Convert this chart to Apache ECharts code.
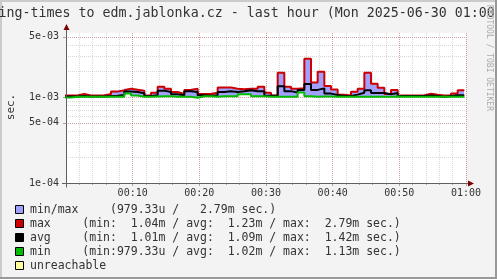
<!DOCTYPE html>
<html><head><meta charset="utf-8">
<script src="https://cdn.jsdelivr.net/npm/echarts@6/dist/echarts.min.js"></script>
<style>html,body{margin:0;padding:0;background:#f3f3f3;overflow:hidden}#c{width:497px;height:279px}</style>
</head><body><div id="c"></div>
<script>
// ---- data (milliseconds), one value per minute step ----
const maxMs = [1.042,1.042,1.085,1.042,1.042,1.042,1.085,1.155,1.196,1.251,1.218,1.186,1.042,1.124,1.32,1.251,1.144,1.085,1.21,1.251,
  1.085,1.085,1.124,1.29,1.29,1.251,1.23,1.251,1.251,1.32,1.124,1.042,1.92,1.32,1.251,1.262,2.79,1.47,1.97,1.34,
  1.22,1.06,1.042,1.15,1.251,1.92,1.43,1.285,1.085,1.21,1.042,1.042,1.042,1.042,1.09,1.06,1.042,1.042,1.1,1.196];
const avgMs = [1.015,1.015,1.028,1.015,1.015,1.015,1.028,1.037,1.056,1.155,1.144,1.104,1.028,1.047,1.186,1.144,1.075,1.047,1.165,1.144,
  1.047,1.037,1.047,1.144,1.165,1.144,1.165,1.196,1.165,1.165,1.037,1.037,1.33,1.17,1.124,1.21,1.42,1.21,1.26,1.095,
  1.055,1.03,1.03,1.066,1.12,1.196,1.11,1.11,1.075,1.11,1.03,1.03,1.03,1.03,1.04,1.03,1.01,1.03,1.05,1.05];
const minMs = [0.985,1.005,1.005,1.005,1.005,1.005,1.005,1.005,1.005,1.1,1.04,1.005,1.005,1.015,1.02,1.02,1.01,1.01,1.005,0.979,
  1.02,1.02,1.01,1.02,1.02,1.02,1.08,1.08,1.02,1.02,1.005,1.005,1.005,1.01,1.01,1.13,1.02,1.005,1.015,1.015,
  1.005,1.005,1.005,1.005,1.005,1.01,1.005,1.005,1.005,1.015,1.005,1.005,1.005,1.005,1.01,1.01,1.005,1.005,1.01,1.01];
const firstStepStart = -0.25;   // minutes after 00:00 at which the first step begins
const stepMinutes = 1;

const xTickValues = [10, 20, 30, 40, 50, 60];
const xTickLabels = ['00:10', '00:20', '00:30', '00:40', '00:50', '01:00'];
const yTickValues = [1e-4, 5e-4, 1e-3, 5e-3];
const yTickLabels = ['1e-04', '5e-04', '1e-03', '5e-03'];
const yMajorGrid = [5e-4, 1e-3, 5e-3];
const yMinorGrid = [2e-4, 3e-4, 4e-4, 6e-4, 7e-4, 8e-4, 9e-4, 2e-3, 3e-3, 4e-3];

const legendNames = ['min/max', 'max', 'avg', 'min', 'unreachable'];
const legendStats = ['(979.33u /   2.79m sec.)',
  '(min:  1.04m / avg:  1.23m / max:  2.79m sec.)',
  '(min:  1.01m / avg:  1.09m / max:  1.42m sec.)',
  '(min:979.33u / avg:  1.02m / max:  1.13m sec.)',
  ''];
const titleText = 'ing-times to edm.jablonka.cz - last hour (Mon 2025-06-30 01:00';
const watermarkText = 'RRDTOOL / TOBI OETIKER';
const unitText = 'sec.';

// ---- styling ----
const MONO = '"DejaVu Sans Mono", "Liberation Mono", monospace';
const C_BAND = '#a0a0ff', C_MAX = '#cc0000', C_AVG = '#000000', C_MIN = '#00bb00', C_UNREACH = '#ffffa0';
const C_FONT = '#333333';
const C_MGRID = 'rgba(130,30,30,0.42)', C_GRID = 'rgba(140,140,140,0.35)';
const G = {left: 66, top: 33, width: 400, height: 150};
const X_MIN = 0, X_MAX = 60;

const toSec = a => a.map(v => v * 1e-3);
const maxS = toSec(maxMs), avgS = toSec(avgMs), minS = toSec(minMs);
const stepStart = k => firstStepStart + k * stepMinutes;
const stepLine = vals => vals.map((v, k) => [stepStart(k), v]).concat([[stepStart(vals.length), vals[vals.length - 1]]]);
const bandData = maxS.map((v, k) => [stepStart(k), stepStart(k + 1), minS[k], v]);
const hGridData = yMajorGrid.map(v => [v, 1]).concat(yMinorGrid.map(v => [v, 0]));

const chart = echarts.init(document.getElementById('c'), null, {renderer: 'canvas'});

const legendGraphics = [];
legendNames.forEach((n, i) => {
  const y = 205.5 + i * 14;
  const colors = [C_BAND, C_MAX, C_AVG, C_MIN, C_UNREACH];
  legendGraphics.push({type: 'rect', shape: {x: 15.5, y: y, width: 8, height: 8},
    style: {fill: colors[i], stroke: '#000', lineWidth: 1}, z: 100});
  legendGraphics.push({type: 'text', x: 30, y: y + 4.5,
    style: {text: n, font: '11.5px ' + MONO, fill: C_FONT, textVerticalAlign: 'middle', verticalAlign: 'middle'}, z: 100});
  if (legendStats[i]) legendGraphics.push({type: 'text', x: i === 0 ? 110 : 82.3, y: y + 4.5,
    style: {text: legendStats[i], font: '11.5px ' + MONO, fill: C_FONT, textVerticalAlign: 'middle', verticalAlign: 'middle'}, z: 100});
});

const ax = G.left + 0.5, ay = G.top + G.height + 0.5;
const C_AXIS = '#606060', C_ARROW = '#7f0000';

chart.setOption({
  animation: false,
  backgroundColor: '#f3f3f3',
  grid: Object.assign({show: true, backgroundColor: '#ffffff', borderWidth: 0, containLabel: false}, G),
  xAxis: {
    type: 'value', min: X_MIN, max: X_MAX, interval: 10,
    axisLine: {show: false},
    axisTick: {show: true, length: 3, lineStyle: {color: C_MGRID}},
    minorTick: {show: true, splitNumber: 5, length: 2, lineStyle: {color: '#aaaaaa'}},
    axisLabel: {show: true, margin: 5, fontFamily: MONO, fontSize: 10, color: C_FONT, showMinLabel: false, showMaxLabel: true,
      formatter: v => { const i = xTickValues.indexOf(Math.round(v)); return i >= 0 ? xTickLabels[i] : ''; }},
    splitLine: {show: true, lineStyle: {color: C_MGRID, type: 'dotted', width: 1}},
    minorSplitLine: {show: true, lineStyle: {color: C_GRID, type: 'dotted', width: 1}}
  },
  yAxis: {
    type: 'log', logBase: 10, min: 1e-4, max: 5.55e-3,
    axisLine: {show: false},
    axisTick: {show: true, length: 3, customValues: yTickValues, lineStyle: {color: C_MGRID}},
    axisLabel: {show: true, margin: 7, fontFamily: MONO, fontSize: 10, color: C_FONT, customValues: yTickValues,
      formatter: v => { const i = yTickValues.findIndex(t => Math.abs(t - v) / t < 1e-6); return i >= 0 ? yTickLabels[i] : ''; }},
    splitLine: {show: false}
  },
  series: [
    {type: 'custom', name: 'hgrid', z: 1, silent: true,
      encode: {y: 0},
      renderItem: (params, api) => {
        const v = api.value(0);
        const a = api.coord([X_MIN, v]), b = api.coord([X_MAX, v]);
        const y = Math.round(a[1]) + 0.5;
        return {type: 'line', shape: {x1: a[0], y1: y, x2: b[0], y2: y},
          style: {stroke: api.value(1) ? C_MGRID : C_GRID, lineWidth: 1, lineDash: [1, 1]}};
      },
      data: hGridData
    },
    {type: 'custom', name: 'min/max', z: 2, clip: true,
      encode: {x: [0, 1], y: [2, 3]},
      renderItem: (params, api) => {
        const x0 = Math.max(api.value(0), X_MIN), x1 = Math.min(api.value(1), X_MAX);
        const pTop = api.coord([x0, api.value(3)]);
        const pBot = api.coord([x1, api.value(2)]);
        const l = Math.round(pTop[0]), r = Math.round(pBot[0]);
        return {type: 'rect', shape: {x: l, y: pTop[1], width: r - l, height: pBot[1] - pTop[1]},
          style: {fill: C_BAND}};
      },
      data: bandData
    },
    {type: 'line', name: 'max', z: 3, step: 'end', symbol: 'none', clip: true,
      lineStyle: {color: C_MAX, width: 2}, data: stepLine(maxS)},
    {type: 'line', name: 'avg', z: 4, step: 'end', symbol: 'none', clip: true,
      lineStyle: {color: C_AVG, width: 2}, data: stepLine(avgS)},
    {type: 'line', name: 'min', z: 5, step: 'end', symbol: 'none', clip: true,
      lineStyle: {color: C_MIN, width: 2}, data: stepLine(minS)}
  ],
  graphic: [
    // frame shading
    {type: 'rect', shape: {x: 0, y: 0, width: 497, height: 2}, style: {fill: '#cbcbcb'}, z: 90},
    {type: 'rect', shape: {x: 0, y: 0, width: 2, height: 279}, style: {fill: '#cbcbcb'}, z: 90},
    {type: 'rect', shape: {x: 495, y: 0, width: 2, height: 279}, style: {fill: '#999999'}, z: 91},
    {type: 'rect', shape: {x: 0, y: 277, width: 497, height: 2}, style: {fill: '#999999'}, z: 91},
    // axes with arrows
    {type: 'line', shape: {x1: ax, y1: ay + 4, x2: ax, y2: G.top - 4}, style: {stroke: C_AXIS, lineWidth: 1}, z: 50},
    {type: 'line', shape: {x1: G.left - 4, y1: ay, x2: G.left + G.width + 3, y2: ay}, style: {stroke: C_AXIS, lineWidth: 1}, z: 50},
    {type: 'polygon', shape: {points: [[ax - 3, G.top - 3], [ax + 3, G.top - 3], [ax, G.top - 9]]}, style: {fill: C_ARROW}, z: 51},
    {type: 'polygon', shape: {points: [[G.left + G.width + 2, ay - 3], [G.left + G.width + 2, ay + 3], [G.left + G.width + 8, ay]]}, style: {fill: C_ARROW}, z: 51},
    // title
    {type: 'text', x: -1.5, y: 14, style: {text: titleText, font: '13.3px ' + MONO, fill: C_FONT, textVerticalAlign: 'middle', verticalAlign: 'middle'}, z: 100},
    // unit
    {type: 'text', x: 11, y: 107, rotation: Math.PI / 2,
      style: {text: unitText, font: '11px ' + MONO, fill: C_FONT, align: 'center', textAlign: 'center', verticalAlign: 'middle', textVerticalAlign: 'middle'}, z: 100},
    // watermark
    {type: 'text', x: 489, y: 58, rotation: -Math.PI / 2,
      style: {text: watermarkText, font: '8px ' + MONO, fill: '#ababab', align: 'center', textAlign: 'center', verticalAlign: 'middle', textVerticalAlign: 'middle'}, z: 100}
  ].concat(legendGraphics)
});
</script></body></html>
